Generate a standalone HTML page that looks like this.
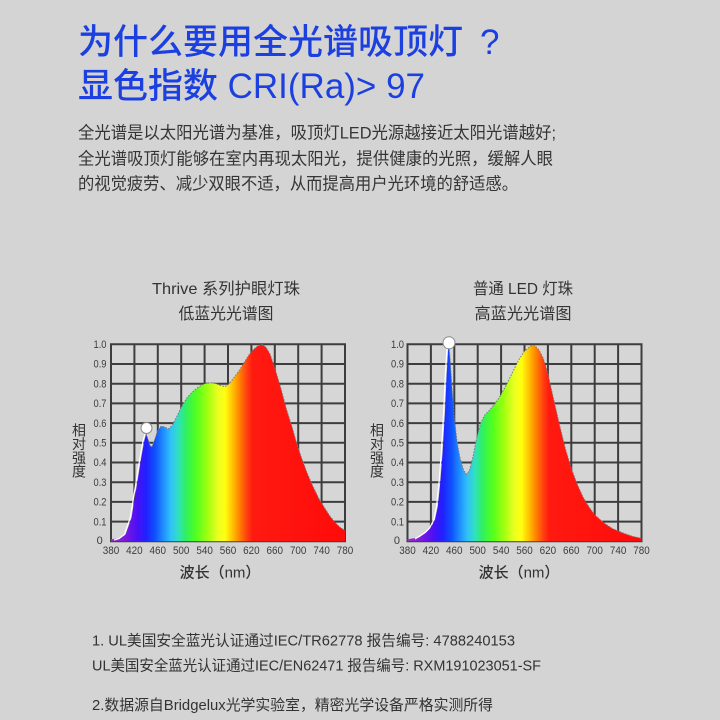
<!DOCTYPE html>
<html>
<head>
<meta charset="utf-8">
<style>
  html,body{margin:0;padding:0;background:#d4d4d4;}
  body{width:720px;height:720px;overflow:hidden;}
  svg{display:block;}
  .f{font-family:"Liberation Sans","Noto Sans CJK SC",sans-serif;}
</style>
</head>
<body>
<svg width="720" height="720" viewBox="0 0 720 720" xmlns="http://www.w3.org/2000/svg">
  <defs>
    <linearGradient id="gL" gradientUnits="userSpaceOnUse" x1="111" y1="0" x2="345" y2="0">
      <stop offset="0" stop-color="#9b30c8"/>
      <stop offset="0.0625" stop-color="#7a18e0"/>
      <stop offset="0.1125" stop-color="#4a10f5"/>
      <stop offset="0.15" stop-color="#2020ff"/>
      <stop offset="0.1875" stop-color="#1050ff"/>
      <stop offset="0.225" stop-color="#2090ff"/>
      <stop offset="0.255" stop-color="#30c0f8"/>
      <stop offset="0.2875" stop-color="#30e0c0"/>
      <stop offset="0.32" stop-color="#30f060"/>
      <stop offset="0.3625" stop-color="#50ff20"/>
      <stop offset="0.4125" stop-color="#a0ff10"/>
      <stop offset="0.455" stop-color="#e8ff20"/>
      <stop offset="0.4875" stop-color="#ffff10"/>
      <stop offset="0.52" stop-color="#ffc000"/>
      <stop offset="0.55" stop-color="#ff8000"/>
      <stop offset="0.58" stop-color="#ff4010"/>
      <stop offset="0.605" stop-color="#ff1a10"/>
      <stop offset="1" stop-color="#ff0a0a"/>
    </linearGradient>
    <linearGradient id="gR" gradientUnits="userSpaceOnUse" x1="407.5" y1="0" x2="641.5" y2="0">
      <stop offset="0" stop-color="#9b30c8"/>
      <stop offset="0.0625" stop-color="#7a18e0"/>
      <stop offset="0.1125" stop-color="#4a10f5"/>
      <stop offset="0.15" stop-color="#2020ff"/>
      <stop offset="0.1875" stop-color="#1050ff"/>
      <stop offset="0.225" stop-color="#2090ff"/>
      <stop offset="0.255" stop-color="#30c0f8"/>
      <stop offset="0.2875" stop-color="#30e0c0"/>
      <stop offset="0.32" stop-color="#30f060"/>
      <stop offset="0.3625" stop-color="#50ff20"/>
      <stop offset="0.4125" stop-color="#a0ff10"/>
      <stop offset="0.455" stop-color="#e8ff20"/>
      <stop offset="0.4875" stop-color="#ffff10"/>
      <stop offset="0.52" stop-color="#ffc000"/>
      <stop offset="0.55" stop-color="#ff8000"/>
      <stop offset="0.58" stop-color="#ff4010"/>
      <stop offset="0.605" stop-color="#ff1a10"/>
      <stop offset="1" stop-color="#ff0a0a"/>
    </linearGradient>
  </defs>

  <rect x="0" y="0" width="720" height="720" fill="#d4d4d4"/>

  <!-- Title -->
  <g class="f" fill="#1c3fe0" font-size="35" font-weight="500">
    <text x="78" y="54" textLength="385" lengthAdjust="spacingAndGlyphs">为什么要用全光谱吸顶灯</text>
    <text x="480" y="54">?</text>
    <text x="78" y="98" textLength="347" lengthAdjust="spacingAndGlyphs">显色指数 CRI(Ra)&gt; 97</text>
  </g>

  <!-- Paragraph -->
  <g class="f" fill="#353535" font-size="17">
    <text x="78" y="138.5" textLength="478" lengthAdjust="spacingAndGlyphs">全光谱是以太阳光谱为基准，吸顶灯LED光源越接近太阳光谱越好;</text>
    <text x="78" y="164.5" textLength="475" lengthAdjust="spacingAndGlyphs">全光谱吸顶灯能够在室内再现太阳光，提供健康的光照，缓解人眼</text>
    <text x="78" y="189.5" textLength="440" lengthAdjust="spacingAndGlyphs">的视觉疲劳、减少双眼不适，从而提高用户光环境的舒适感。</text>
  </g>

  <!-- Chart titles -->
  <g class="f" fill="#333" font-size="16" text-anchor="middle">
    <text x="226" y="294" textLength="148" lengthAdjust="spacingAndGlyphs">Thrive 系列护眼灯珠</text>
    <text x="226" y="319" textLength="95" lengthAdjust="spacingAndGlyphs">低蓝光光谱图</text>
    <text x="523" y="294" textLength="100" lengthAdjust="spacingAndGlyphs">普通 LED 灯珠</text>
    <text x="523" y="319" textLength="97" lengthAdjust="spacingAndGlyphs">高蓝光光谱图</text>
  </g>

  <!-- LEFT CHART -->
  <rect x="111" y="344.3" width="234" height="197" fill="#d6d6d6"/>
  <g stroke="#3d3d3d" stroke-width="2">
    <line x1="111" y1="344.3" x2="111" y2="541.3"/>
    <line x1="134.4" y1="344.3" x2="134.4" y2="541.3"/>
    <line x1="157.8" y1="344.3" x2="157.8" y2="541.3"/>
    <line x1="181.2" y1="344.3" x2="181.2" y2="541.3"/>
    <line x1="204.6" y1="344.3" x2="204.6" y2="541.3"/>
    <line x1="228" y1="344.3" x2="228" y2="541.3"/>
    <line x1="251.4" y1="344.3" x2="251.4" y2="541.3"/>
    <line x1="274.8" y1="344.3" x2="274.8" y2="541.3"/>
    <line x1="298.2" y1="344.3" x2="298.2" y2="541.3"/>
    <line x1="321.6" y1="344.3" x2="321.6" y2="541.3"/>
    <line x1="345" y1="344.3" x2="345" y2="541.3"/>
    <line x1="110" y1="344.3" x2="346" y2="344.3"/>
    <line x1="110" y1="364" x2="346" y2="364"/>
    <line x1="110" y1="383.7" x2="346" y2="383.7"/>
    <line x1="110" y1="403.4" x2="346" y2="403.4"/>
    <line x1="110" y1="423.1" x2="346" y2="423.1"/>
    <line x1="110" y1="442.8" x2="346" y2="442.8"/>
    <line x1="110" y1="462.5" x2="346" y2="462.5"/>
    <line x1="110" y1="482.2" x2="346" y2="482.2"/>
    <line x1="110" y1="501.9" x2="346" y2="501.9"/>
    <line x1="110" y1="521.6" x2="346" y2="521.6"/>
    <line x1="110" y1="541.3" x2="346" y2="541.3"/>
  </g>
  <path fill="url(#gL)" d="M111,541.3 L111,539.3 L119.8,538.3 L125.6,534.4 L131.5,517.7 L136.7,486.1 L141.4,456.6 L144.3,440.8 L146.1,433.9 L147.9,438.9 L150.2,445.8 L152,446.7 L154.9,438.9 L157.8,430 L161.3,426.1 L164.8,427 L168.3,429 L172.4,425.1 L176.5,417.2 L181.2,407.3 L187.1,397.5 L192.9,391.6 L198.8,386.7 L204.6,383.7 L210.5,382.7 L216.3,383.7 L221,385.7 L225.1,386.7 L229.2,383.7 L233.9,377.8 L239.7,369.9 L245.6,360.1 L251.4,351.2 L257.3,346.3 L262,344.3 L266,347.3 L270.1,354.2 L274.8,368 L280.7,387.6 L286.5,409.3 L292.4,428 L296.5,442.8 L301.1,456.6 L306.9,472.4 L312.8,486.1 L318.6,498 L324.5,507.8 L330.4,516.7 L336.2,523.6 L340.3,527.5 L345,530.5 L345,541.3 Z"/>
  <path fill="none" stroke="#7a7a7a" stroke-width="1" stroke-dasharray="1.5 1.5" d="M146.1,433.9 L147.9,438.9 L150.2,445.8 L152,446.7 L154.9,438.9 L157.8,430 L161.3,426.1 L164.8,427 L168.3,429 L172.4,425.1 L176.5,417.2 L181.2,407.3 L187.1,397.5 L192.9,391.6 L198.8,386.7 L204.6,383.7 L210.5,382.7 L216.3,383.7 L221,385.7 L225.1,386.7 L229.2,383.7 L233.9,377.8 L239.7,369.9 L245.6,360.1 L251.4,351.2 L257.3,346.3 L262,344.3 L266,347.3 L270.1,354.2 L274.8,368 L280.7,387.6 L286.5,409.3 L292.4,428 L296.5,442.8 L301.1,456.6 L306.9,472.4 L312.8,486.1 L318.6,498 L324.5,507.8 L330.4,516.7 L336.2,523.6 L340.3,527.5 L345,530.5"/>
  <path fill="none" stroke="#ffffff" stroke-width="1.2" d="M114,540 L119,538.6 L124.3,534.6 L130.2,518 L135.4,486.4 L140.1,457 L143,441 L145,434"/>
  <circle cx="146.5" cy="428" r="5.5" fill="#ffffff" stroke="#8a8a8a" stroke-width="1"/>

  <!-- Left y ticks -->
  <g class="f" fill="#3c3c3c" font-size="11" text-anchor="end">
    <text x="106.5" y="348" textLength="13" lengthAdjust="spacingAndGlyphs">1.0</text>
    <text x="106.5" y="367.7" textLength="13" lengthAdjust="spacingAndGlyphs">0.9</text>
    <text x="106.5" y="387.4" textLength="13" lengthAdjust="spacingAndGlyphs">0.8</text>
    <text x="106.5" y="407.1" textLength="13" lengthAdjust="spacingAndGlyphs">0.7</text>
    <text x="106.5" y="426.8" textLength="13" lengthAdjust="spacingAndGlyphs">0.6</text>
    <text x="106.5" y="446.5" textLength="13" lengthAdjust="spacingAndGlyphs">0.5</text>
    <text x="106.5" y="466.2" textLength="13" lengthAdjust="spacingAndGlyphs">0.4</text>
    <text x="106.5" y="485.9" textLength="13" lengthAdjust="spacingAndGlyphs">0.3</text>
    <text x="106.5" y="505.6" textLength="13" lengthAdjust="spacingAndGlyphs">0.2</text>
    <text x="106.5" y="525.3" textLength="13" lengthAdjust="spacingAndGlyphs">0.1</text>
    <text x="102.7" y="544">0</text>
  </g>
  <g class="f" fill="#3c3c3c" font-size="11" text-anchor="middle">
    <text x="111" y="554" textLength="16.5" lengthAdjust="spacingAndGlyphs">380</text>
    <text x="134.4" y="554" textLength="16.5" lengthAdjust="spacingAndGlyphs">420</text>
    <text x="157.8" y="554" textLength="16.5" lengthAdjust="spacingAndGlyphs">460</text>
    <text x="181.2" y="554" textLength="16.5" lengthAdjust="spacingAndGlyphs">500</text>
    <text x="204.6" y="554" textLength="16.5" lengthAdjust="spacingAndGlyphs">540</text>
    <text x="228" y="554" textLength="16.5" lengthAdjust="spacingAndGlyphs">560</text>
    <text x="251.4" y="554" textLength="16.5" lengthAdjust="spacingAndGlyphs">620</text>
    <text x="274.8" y="554" textLength="16.5" lengthAdjust="spacingAndGlyphs">660</text>
    <text x="298.2" y="554" textLength="16.5" lengthAdjust="spacingAndGlyphs">700</text>
    <text x="321.6" y="554" textLength="16.5" lengthAdjust="spacingAndGlyphs">740</text>
    <text x="345" y="554" textLength="16.5" lengthAdjust="spacingAndGlyphs">780</text>
  </g>
  <g class="f" fill="#333" font-size="14" text-anchor="middle">
    <text x="79" y="435.5">相</text>
    <text x="79" y="449">对</text>
    <text x="79" y="463">强</text>
    <text x="79" y="476.5">度</text>
  </g>
  <text class="f" x="220" y="577.5" fill="#333" font-size="15" font-weight="500" text-anchor="middle">波长（nm）</text>

  <!-- RIGHT CHART -->
  <rect x="407.5" y="344.3" width="234" height="197" fill="#d6d6d6"/>
  <g stroke="#3d3d3d" stroke-width="2">
    <line x1="407.5" y1="344.3" x2="407.5" y2="541.3"/>
    <line x1="430.9" y1="344.3" x2="430.9" y2="541.3"/>
    <line x1="454.3" y1="344.3" x2="454.3" y2="541.3"/>
    <line x1="477.7" y1="344.3" x2="477.7" y2="541.3"/>
    <line x1="501.1" y1="344.3" x2="501.1" y2="541.3"/>
    <line x1="524.5" y1="344.3" x2="524.5" y2="541.3"/>
    <line x1="547.9" y1="344.3" x2="547.9" y2="541.3"/>
    <line x1="571.3" y1="344.3" x2="571.3" y2="541.3"/>
    <line x1="594.7" y1="344.3" x2="594.7" y2="541.3"/>
    <line x1="618.1" y1="344.3" x2="618.1" y2="541.3"/>
    <line x1="641.5" y1="344.3" x2="641.5" y2="541.3"/>
    <line x1="406.5" y1="344.3" x2="642.5" y2="344.3"/>
    <line x1="406.5" y1="364" x2="642.5" y2="364"/>
    <line x1="406.5" y1="383.7" x2="642.5" y2="383.7"/>
    <line x1="406.5" y1="403.4" x2="642.5" y2="403.4"/>
    <line x1="406.5" y1="423.1" x2="642.5" y2="423.1"/>
    <line x1="406.5" y1="442.8" x2="642.5" y2="442.8"/>
    <line x1="406.5" y1="462.5" x2="642.5" y2="462.5"/>
    <line x1="406.5" y1="482.2" x2="642.5" y2="482.2"/>
    <line x1="406.5" y1="501.9" x2="642.5" y2="501.9"/>
    <line x1="406.5" y1="521.6" x2="642.5" y2="521.6"/>
    <line x1="406.5" y1="541.3" x2="642.5" y2="541.3"/>
  </g>
  <path fill="url(#gR)" d="M407.5,541.3 L407.5,539.3 L419.2,537.4 L426.2,532.4 L430.9,527.5 L435,519.6 L437.9,505.8 L440.3,482.2 L442.6,452.6 L444.9,413.3 L446.7,373.8 L448.2,348.2 L449,346.3 L450.2,360.1 L452,387.6 L454.3,417.2 L457.2,442.8 L460.2,458.6 L463.7,470.4 L466.6,474.3 L469.5,470.4 L473,456.6 L476.5,438.9 L480.6,423.1 L484.7,415.2 L489.4,410.3 L495.3,403.4 L501.1,394.5 L507,383.7 L512.8,371.9 L518.7,360.1 L524.5,351.2 L530.4,346.3 L534.4,345.3 L539.1,350.2 L543.2,358.1 L547.9,373.8 L553.7,399.5 L559.6,425.1 L565.4,448.7 L571.3,468.4 L577.2,484.2 L583,497 L588.9,506.8 L594.7,514.7 L603.5,522.6 L612.3,528.5 L624,533.4 L632.8,536.4 L641.5,538.3 L641.5,541.3 Z"/>
  <path fill="none" stroke="#7a7a7a" stroke-width="1" stroke-dasharray="1.5 1.5" d="M449,346.3 L450.2,360.1 L452,387.6 L454.3,417.2 L457.2,442.8 L460.2,458.6 L463.7,470.4 L466.6,474.3 L469.5,470.4 L473,456.6 L476.5,438.9 L480.6,423.1 L484.7,415.2 L489.4,410.3 L495.3,403.4 L501.1,394.5 L507,383.7 L512.8,371.9 L518.7,360.1 L524.5,351.2 L530.4,346.3 L534.4,345.3 L539.1,350.2 L543.2,358.1 L547.9,373.8 L553.7,399.5 L559.6,425.1 L565.4,448.7 L571.3,468.4 L577.2,484.2 L583,497 L588.9,506.8 L594.7,514.7 L603.5,522.6 L612.3,528.5 L624,533.4 L632.8,536.4 L641.5,538.3"/>
  <path fill="none" stroke="#ffffff" stroke-width="1.2" d="M415,539 L424.8,532.8 L429.6,528 L433.7,520 L436.6,506 L439,482.4 L441.3,452.8 L443.6,413.5 L445.4,374 L447,348.5"/>
  <circle cx="449" cy="342.8" r="6" fill="#ffffff" stroke="#8a8a8a" stroke-width="1"/>

  <!-- Right ticks -->
  <g class="f" fill="#3c3c3c" font-size="11" text-anchor="end">
    <text x="404" y="348" textLength="13" lengthAdjust="spacingAndGlyphs">1.0</text>
    <text x="404" y="367.7" textLength="13" lengthAdjust="spacingAndGlyphs">0.9</text>
    <text x="404" y="387.4" textLength="13" lengthAdjust="spacingAndGlyphs">0.8</text>
    <text x="404" y="407.1" textLength="13" lengthAdjust="spacingAndGlyphs">0.7</text>
    <text x="404" y="426.8" textLength="13" lengthAdjust="spacingAndGlyphs">0.6</text>
    <text x="404" y="446.5" textLength="13" lengthAdjust="spacingAndGlyphs">0.5</text>
    <text x="404" y="466.2" textLength="13" lengthAdjust="spacingAndGlyphs">0.4</text>
    <text x="404" y="485.9" textLength="13" lengthAdjust="spacingAndGlyphs">0.3</text>
    <text x="404" y="505.6" textLength="13" lengthAdjust="spacingAndGlyphs">0.2</text>
    <text x="404" y="525.3" textLength="13" lengthAdjust="spacingAndGlyphs">0.1</text>
    <text x="400" y="544">0</text>
  </g>
  <g class="f" fill="#3c3c3c" font-size="11" text-anchor="middle">
    <text x="407.5" y="554" textLength="16.5" lengthAdjust="spacingAndGlyphs">380</text>
    <text x="430.9" y="554" textLength="16.5" lengthAdjust="spacingAndGlyphs">420</text>
    <text x="454.3" y="554" textLength="16.5" lengthAdjust="spacingAndGlyphs">460</text>
    <text x="477.7" y="554" textLength="16.5" lengthAdjust="spacingAndGlyphs">500</text>
    <text x="501.1" y="554" textLength="16.5" lengthAdjust="spacingAndGlyphs">540</text>
    <text x="524.5" y="554" textLength="16.5" lengthAdjust="spacingAndGlyphs">560</text>
    <text x="547.9" y="554" textLength="16.5" lengthAdjust="spacingAndGlyphs">620</text>
    <text x="571.3" y="554" textLength="16.5" lengthAdjust="spacingAndGlyphs">660</text>
    <text x="594.7" y="554" textLength="16.5" lengthAdjust="spacingAndGlyphs">700</text>
    <text x="618.1" y="554" textLength="16.5" lengthAdjust="spacingAndGlyphs">740</text>
    <text x="641.5" y="554" textLength="16.5" lengthAdjust="spacingAndGlyphs">780</text>
  </g>
  <g class="f" fill="#333" font-size="14" text-anchor="middle">
    <text x="377" y="435.5">相</text>
    <text x="377" y="449">对</text>
    <text x="377" y="463">强</text>
    <text x="377" y="476.5">度</text>
  </g>
  <text class="f" x="519" y="577.5" fill="#333" font-size="15" font-weight="500" text-anchor="middle">波长（nm）</text>

  <!-- Notes -->
  <g class="f" fill="#333" font-size="15">
    <text x="92" y="645.5" textLength="423" lengthAdjust="spacingAndGlyphs">1. UL美国安全蓝光认证通过IEC/TR62778  报告编号: 4788240153</text>
    <text x="92" y="670.5" textLength="449" lengthAdjust="spacingAndGlyphs">UL美国安全蓝光认证通过IEC/EN62471 报告编号: RXM191023051-SF</text>
    <text x="92" y="710" textLength="401" lengthAdjust="spacingAndGlyphs">2.数据源自Bridgelux光学实验室，精密光学设备严格实测所得</text>
  </g>
</svg>
</body>
</html>
